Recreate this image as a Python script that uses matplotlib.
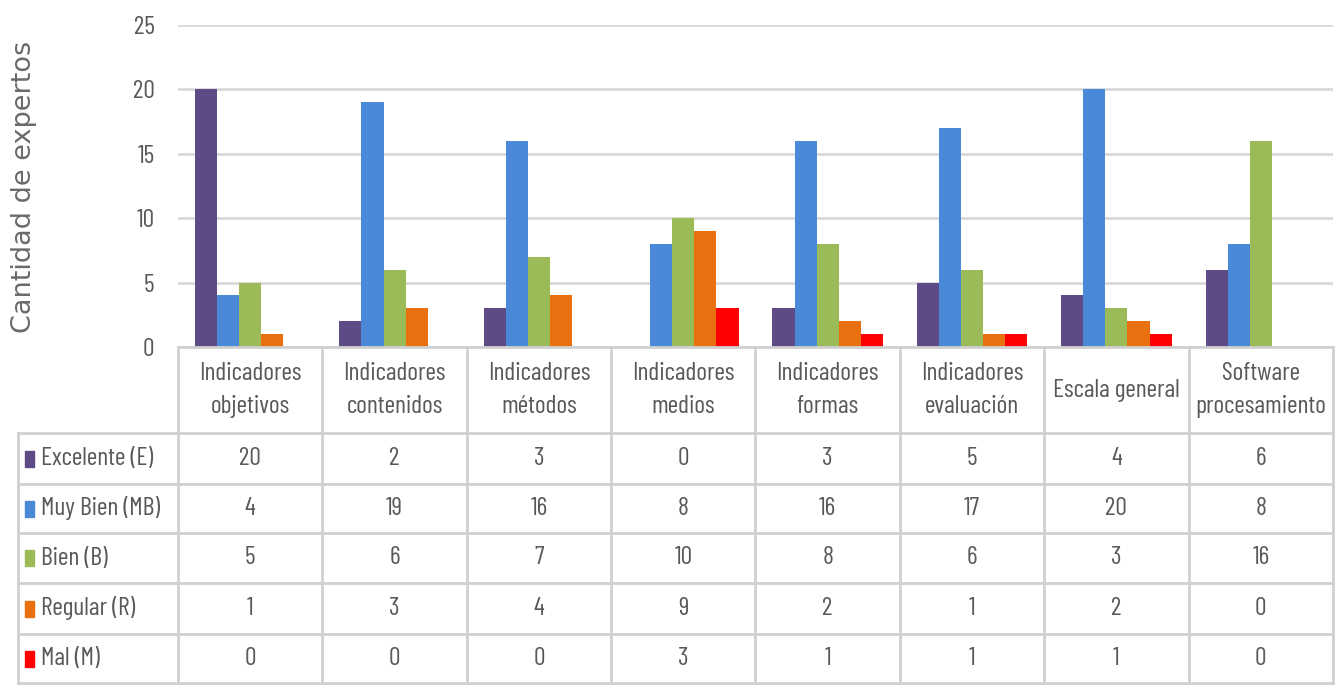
import matplotlib
matplotlib.use("Agg")
import matplotlib.pyplot as plt
from matplotlib.patches import Rectangle
import numpy as np

# Data
categories = ["Indicadores\nobjetivos", "Indicadores\ncontenidos", "Indicadores\nmétodos",
              "Indicadores\nmedios", "Indicadores\nformas", "Indicadores\nevaluación",
              "Escala general", "Software\nprocesamiento"]
series_names = ["Excelente (E)", "Muy Bien (MB)", "Bien (B)", "Regular (R)", "Mal (M)"]
excelente = [20, 2, 3, 0, 3, 5, 4, 6]
muy_bien = [4, 19, 16, 8, 16, 17, 20, 8]
bien = [5, 6, 7, 10, 8, 6, 3, 16]
regular = [1, 3, 4, 9, 2, 1, 2, 0]
mal = [0, 0, 0, 3, 1, 1, 1, 0]
y_ticks = [0, 5, 10, 15, 20, 25]
y_label = "Cantidad de expertos"

series = [excelente, muy_bien, bien, regular, mal]
colors = ["#5E4A85", "#4A88D8", "#9BBB59", "#E8700F", "#FF0000"]

W, H = 1341, 695
TXT = "#595959"
GRID = "#D9D9D9"
TABLE_LINE = "#D0D0D0"
narrow = ["Barlow Condensed", "Archivo Narrow", "DejaVu Sans"]
FS = 18.5

fig = plt.figure(figsize=(W / 100, H / 100), dpi=100)
fig.patch.set_facecolor("white")

# Layout in pixels
plot_left, plot_right = 178, 1333
plot_top, plot_bottom = 25, 347
table_left = 18
row_edges = [433, 484, 533, 583, 634, 683]

ax = fig.add_axes([plot_left / W, 1 - plot_bottom / H,
                   (plot_right - plot_left) / W, (plot_bottom - plot_top) / H])
n = len(categories)
x = np.arange(n)
bw = 0.153
for i, (vals, c) in enumerate(zip(series, colors)):
    ax.bar(x + (i - 2) * bw, vals, width=bw, color=c, zorder=3)

ax.set_xlim(-0.5, n - 0.5)
ax.set_ylim(0, 25)
ax.set_yticks(y_ticks)
ax.set_yticklabels([str(v) for v in y_ticks], family=narrow, fontsize=FS, color=TXT)
ax.tick_params(axis="y", length=0, pad=17)
ax.set_xticks([])
ax.yaxis.grid(True, color=GRID, linewidth=2)
ax.set_axisbelow(True)
for s in ["top", "right", "left", "bottom"]:
    ax.spines[s].set_visible(False)
ax.set_facecolor("none")

# Table overlay in pixel coordinates
tab = fig.add_axes([0, 0, 1, 1])
tab.set_xlim(0, W)
tab.set_ylim(H, 0)
tab.axis("off")
tab.set_facecolor("none")

col_w = (plot_right - plot_left) / n
col_edges = [plot_left + k * col_w for k in range(n + 1)]
lw = 2

# horizontal lines
tab.plot([plot_left, plot_right], [plot_bottom, plot_bottom], color=TABLE_LINE, lw=lw)
for ye in row_edges:
    tab.plot([table_left, plot_right], [ye, ye], color=TABLE_LINE, lw=lw)
# vertical lines
for xe in col_edges:
    tab.plot([xe, xe], [plot_bottom, row_edges[-1]], color=TABLE_LINE, lw=lw)
tab.plot([table_left, table_left], [row_edges[0], row_edges[-1]], color=TABLE_LINE, lw=lw)

# header labels
for k, cat in enumerate(categories):
    cx = (col_edges[k] + col_edges[k + 1]) / 2
    tab.text(cx, (plot_bottom + row_edges[0]) / 2, cat, ha="center", va="center",
             family=narrow, fontsize=FS, color=TXT, linespacing=1.6)

# rows
for r, (name, vals, c) in enumerate(zip(series_names, series, colors)):
    cy = (row_edges[r] + row_edges[r + 1]) / 2
    tab.add_patch(Rectangle((25, cy - 8), 9, 16, color=c))
    tab.text(41, cy, name, ha="left", va="center", family=narrow, fontsize=FS, color=TXT)
    for k, v in enumerate(vals):
        cx = (col_edges[k] + col_edges[k + 1]) / 2
        tab.text(cx, cy, str(v), ha="center", va="center", family=narrow,
                 fontsize=FS, color=TXT)

# y-axis title
fig.text(24 / W, 1 - 187 / H, y_label, rotation=90, ha="center", va="center",
         family="DejaVu Sans", fontsize=19.5, color="#6A6A6A")

fig.savefig("out.png", dpi=100, facecolor="white")
